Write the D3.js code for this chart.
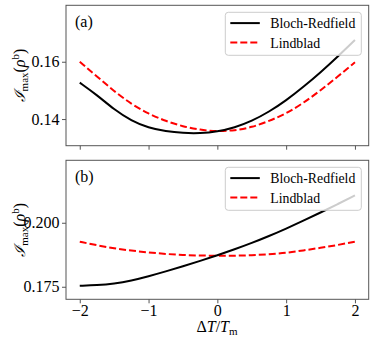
<!DOCTYPE html>
<html>
<head>
<meta charset="utf-8">
<script src="https://cdn.jsdelivr.net/npm/d3@7"></script>
<style>
  body { margin: 0; background: #fff; }
  .axis path, .axis line { stroke: #555; }
</style>
</head>
<body>
<div id="canvas"></div>
<script>
var width = 374,
    height = 342,
    serif = "'Liberation Serif', 'DejaVu Serif', serif";

// data
var dT = [-2, -1.75, -1.5, -1.25, -1, -0.75, -0.5, -0.25, 0, 0.25, 0.5, 0.75, 1, 1.25, 1.5, 1.75, 2];

var brA = [0.1527, 0.1484, 0.1433, 0.1394, 0.1369, 0.1357, 0.1351, 0.1350, 0.1356, 0.1370, 0.1393, 0.1425, 0.1465, 0.1512, 0.1563, 0.1618, 0.1676];
var lbA = [0.1600, 0.1549, 0.1497, 0.1452, 0.1418, 0.1393, 0.1374, 0.1362, 0.1357, 0.1360, 0.1371, 0.1393, 0.1419, 0.1456, 0.1500, 0.1548, 0.1598];

var brB = [0.1754, 0.1756, 0.1762, 0.1774, 0.1791, 0.1810, 0.1830, 0.1851, 0.1873, 0.1896, 0.1921, 0.1948, 0.1977, 0.2008, 0.2040, 0.2073, 0.2107];
var lbB = [0.1926, 0.1912, 0.1900, 0.1891, 0.1884, 0.1878, 0.1874, 0.1872, 0.1871, 0.1871, 0.1873, 0.1877, 0.1882, 0.1892, 0.1902, 0.1913, 0.1926];

var xTicks = [-2, -1, 0, 1, 2];
var yTicksA = [0.14, 0.16];
var yTicksB = [0.175, 0.200];
var seriesNames = ["Bloch-Redfield", "Lindblad"];

var left = 66, right = 368.7;

var svg = d3.select("#canvas").append("svg")
    .attr("width", width)
    .attr("height", height);

var x = d3.scaleLinear().domain([-2.2, 2.2]).range([left, right]);

var panels = [
  { top: 5.3, bottom: 145.7, domain: [0.1307, 0.1797], ticks: yTicksA, fmt: d3.format(".2f"), br: brA, lb: lbA, tag: "(a)", labels: false },
  { top: 160.3, bottom: 299.3, domain: [0.1701, 0.2244], ticks: yTicksB, fmt: d3.format(".3f"), br: brB, lb: lbB, tag: "(b)", labels: true }
];

panels.forEach(function(p) {
  var y = d3.scaleLinear().domain(p.domain).range([p.bottom, p.top]);
  var g = svg.append("g");

  var line = d3.line()
      .x(function(d, i) { return x(dT[i]); })
      .y(function(d) { return y(d); })
      .curve(d3.curveBasis);

  g.append("path").datum(p.lb)
      .attr("d", line)
      .attr("fill", "none")
      .attr("stroke", "#ff0000")
      .attr("stroke-width", 2)
      .attr("stroke-dasharray", "7,3");

  g.append("path").datum(p.br)
      .attr("d", line)
      .attr("fill", "none")
      .attr("stroke", "#000")
      .attr("stroke-width", 2);

  // frame
  g.append("rect")
      .attr("x", left).attr("y", p.top)
      .attr("width", right - left).attr("height", p.bottom - p.top)
      .attr("fill", "none").attr("stroke", "#555").attr("stroke-width", 1);

  var ya = g.append("g").attr("class", "axis")
      .attr("transform", "translate(" + left + ",0)")
      .call(d3.axisLeft(y).tickValues(p.ticks).tickFormat(p.fmt).tickSize(4).tickPadding(2.5));
  ya.select(".domain").remove();
  ya.selectAll("text").style("font-size", "16px");

  var xa = g.append("g").attr("class", "axis")
      .attr("transform", "translate(0," + p.bottom + ")")
      .call(d3.axisBottom(x).tickValues(xTicks)
        .tickFormat(p.labels ? function(d) { return d < 0 ? "\u2212" + Math.abs(d) : d; } : "")
        .tickSize(4).tickPadding(1.5));
  xa.select(".domain").remove();
  xa.selectAll("text").style("font-size", "16px");

  // panel tag
  g.append("text")
      .attr("x", 75).attr("y", p.top + 22)
      .style("font-size", "16px")
      .text(p.tag);

  // legend
  var lx = 225.3, ly = p.top + 7, lw = 136, lh = 43;
  g.append("rect")
      .attr("x", lx).attr("y", ly)
      .attr("width", lw).attr("height", lh)
      .attr("rx", 3)
      .attr("fill", "#fff").attr("fill-opacity", 0.8)
      .attr("stroke", "#ccc").attr("stroke-width", 1);

  seriesNames.forEach(function(name, i) {
    var yy = ly + 10.8 + i * 19.5;
    g.append("line")
        .attr("x1", lx + 5).attr("x2", lx + 34.5)
        .attr("y1", yy).attr("y2", yy)
        .attr("stroke", i === 0 ? "#000" : "#ff0000")
        .attr("stroke-width", 2)
        .attr("stroke-dasharray", i === 0 ? null : "7,3");
    g.append("text")
        .attr("x", lx + 45).attr("y", yy + 5)
        .style("font-size", "13.8px")
        .text(name);
  });

  // y label
  var cy = (p.top + p.bottom) / 2;
  var yl = g.append("text")
      .attr("transform", "translate(25," + cy + ") rotate(-90)")
      .attr("text-anchor", "middle")
      .style("font-size", "16px");
  yl.append("tspan").style("font-style", "italic").style("font-size", "15px").text("\u2110");
  yl.append("tspan").attr("dy", 3).style("font-size", "11px").text("max");
  yl.append("tspan").attr("dy", -3).text("(");
  yl.append("tspan").style("font-style", "italic").text("\u03c1");
  yl.append("tspan").attr("dy", -6).style("font-size", "11px").text("b");
  yl.append("tspan").attr("dy", 6).text(")");
});

// x label
var xl = svg.append("text")
    .attr("x", 217).attr("y", 332)
    .attr("text-anchor", "middle")
    .style("font-size", "16px");
xl.append("tspan").text("\u0394");
xl.append("tspan").style("font-style", "italic").text("T");
xl.append("tspan").text("/");
xl.append("tspan").style("font-style", "italic").text("T");
xl.append("tspan").attr("dy", 3).style("font-size", "11px").text("m");

svg.selectAll("text").style("font-family", serif).style("fill", "#000");
</script>
</body>
</html>
